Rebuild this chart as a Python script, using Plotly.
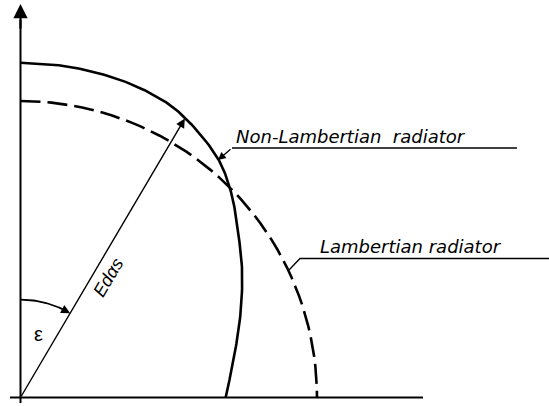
import numpy as np
import plotly.graph_objects as go

# ---- data (polar: angle from vertical axis in degrees, radius relative to Lambertian) ----
eps_nonlamb = [0, 5, 10, 17, 23, 29, 39.3, 45.7, 52.4, 60.1, 69.0, 79.3, 90]
r_nonlamb = [1.129, 1.128, 1.127, 1.123, 1.116, 1.101, 1.047, 0.992, 0.925, 0.862, 0.795, 0.733, 0.692]
eps_lamb = list(range(0, 91, 2))
r_lamb = [1.0] * len(eps_lamb)
arrow_eps = 30.5          # direction of E_dαs
arrow_r = 1.092
arc_r = 0.33
labels = ["Non-Lambertian  radiator", "Lambertian radiator", "ε", "Edαs"]

# ---- pixel mapping (layout) ----
W, H = 549, 406
ox, oy, S = 20.5, 397.5, 296.5
xr = [-ox / S, (W - ox) / S]
yr = [(oy - H) / S, oy / S]
def px(x): return (x - ox) / S
def py(y): return (oy - y) / S

def pol(eps, r):
    e = np.radians(np.asarray(eps, float))
    r = np.asarray(r, float)
    return r * np.sin(e), r * np.cos(e)

def catmull(xs, ys, n=16, alpha=0.5):
    """Centripetal Catmull-Rom through the given points."""
    P = np.column_stack([xs, ys]).astype(float)
    P = np.vstack([2 * P[0] - P[1], P, 2 * P[-1] - P[-2]])
    out = []
    for i in range(1, len(P) - 2):
        p0, p1, p2, p3 = P[i - 1], P[i], P[i + 1], P[i + 2]
        t0 = 0.0
        t1 = t0 + np.linalg.norm(p1 - p0) ** alpha
        t2 = t1 + np.linalg.norm(p2 - p1) ** alpha
        t3 = t2 + np.linalg.norm(p3 - p2) ** alpha
        for t in np.linspace(t1, t2, n, endpoint=False):
            a1 = (t1 - t) / (t1 - t0) * p0 + (t - t0) / (t1 - t0) * p1
            a2 = (t2 - t) / (t2 - t1) * p1 + (t - t1) / (t2 - t1) * p2
            a3 = (t3 - t) / (t3 - t2) * p2 + (t - t2) / (t3 - t2) * p3
            b1 = (t2 - t) / (t2 - t0) * a1 + (t - t0) / (t2 - t0) * a2
            b2 = (t3 - t) / (t3 - t1) * a2 + (t - t1) / (t3 - t1) * a3
            out.append((t2 - t) / (t2 - t1) * b1 + (t - t1) / (t2 - t1) * b2)
    out.append(P[-2])
    out = np.array(out)
    return out[:, 0], out[:, 1]

fig = go.Figure()
K = "black"

# axes
fig.add_trace(go.Scatter(x=[px(10), px(423)], y=[0, 0], mode="lines",
                         line=dict(color=K, width=2), hoverinfo="skip"))
fig.add_trace(go.Scatter(x=[0, 0], y=[py(403), py(20)], mode="lines",
                         line=dict(color=K, width=2), hoverinfo="skip"))
fig.add_annotation(x=0, y=py(4), ax=0, ay=py(30), xref="x", yref="y", axref="x", ayref="y",
                   showarrow=True, arrowhead=2, arrowsize=1.3, arrowwidth=2.2, arrowcolor=K, text="")

# Lambertian (dashed)
lx, ly = pol(eps_lamb, r_lamb)
fig.add_trace(go.Scatter(x=lx, y=ly, mode="lines",
                         line=dict(color=K, width=2.6, dash="20px,7px"), hoverinfo="skip"))
# Non-Lambertian (solid), smoothed through the read points
px0, py0 = pol(eps_nonlamb, r_nonlamb)
nx, ny = catmull(px0, py0)
fig.add_trace(go.Scatter(x=nx, y=ny, mode="lines",
                         line=dict(color=K, width=2.6), hoverinfo="skip"))

# E arrow
tx, ty = pol([arrow_eps], [arrow_r])
fig.add_annotation(x=tx[0], y=ty[0], ax=0, ay=0, xref="x", yref="y", axref="x", ayref="y",
                   showarrow=True, arrowhead=2, arrowsize=1.3, arrowwidth=1.4, arrowcolor=K, text="")

# angle arc
ae = np.linspace(0, arrow_eps - 3, 30)
axx, ayy = pol(ae, [arc_r] * len(ae))
fig.add_trace(go.Scatter(x=axx, y=ayy, mode="lines", line=dict(color=K, width=1.8), hoverinfo="skip"))
hx, hy = pol([arrow_eps, arrow_eps - 5], [arc_r, arc_r])
fig.add_annotation(x=hx[0], y=hy[0], ax=hx[1], ay=hy[1], xref="x", yref="y", axref="x", ayref="y",
                   showarrow=True, arrowhead=2, arrowsize=1.2, arrowwidth=1.5, arrowcolor=K, text="")

# Non-Lambertian label leader + underline
fig.add_trace(go.Scatter(x=[px(517), px(232)], y=[py(148), py(148)], mode="lines",
                         line=dict(color=K, width=1.3), hoverinfo="skip"))
fig.add_annotation(x=px(218), y=py(160), ax=px(232), ay=py(148), xref="x", yref="y",
                   axref="x", ayref="y", showarrow=True, arrowhead=2, arrowsize=1.2,
                   arrowwidth=1.3, arrowcolor=K, text="")
# Lambertian label leader + underline
fig.add_trace(go.Scatter(x=[px(560), px(300), px(289)], y=[py(258.5), py(258.5), py(270)],
                         mode="lines", line=dict(color=K, width=1.3), hoverinfo="skip"))

font = dict(family="DejaVu Sans", size=18, color=K, style="italic")
fig.add_annotation(x=px(234), y=py(149), xref="x", yref="y", text=labels[0], showarrow=False,
                   xanchor="left", yanchor="bottom", font=font)
fig.add_annotation(x=px(318), y=py(259), xref="x", yref="y", text=labels[1], showarrow=False,
                   xanchor="left", yanchor="bottom", font=font)
fig.add_annotation(x=px(38), y=py(334), xref="x", yref="y", text=labels[2], showarrow=False,
                   font=dict(family="Liberation Sans", size=20, color=K))
fig.add_annotation(x=px(108), y=py(278), xref="x", yref="y", text=labels[3], showarrow=False,
                   textangle=-59.5, font=dict(family="Liberation Sans", size=18, color=K, style="italic"))

fig.update_layout(width=W, height=H, margin=dict(l=0, r=0, t=0, b=0),
                  paper_bgcolor="white", plot_bgcolor="white", showlegend=False,
                  xaxis=dict(range=xr, visible=False, fixedrange=True),
                  yaxis=dict(range=yr, visible=False, fixedrange=True))
fig.write_html("out.html", config={"displayModeBar": False},
               post_script="document.body.style.margin='0';")
